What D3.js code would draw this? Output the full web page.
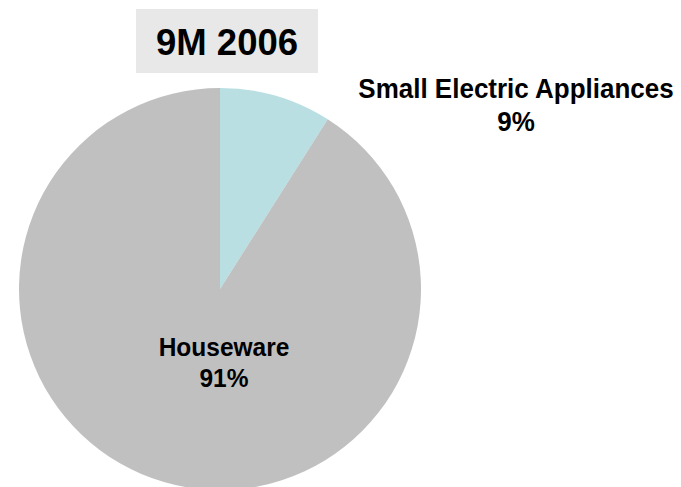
<!DOCTYPE html>
<html>
<head>
<meta charset="utf-8">
<script src="https://cdn.jsdelivr.net/npm/d3@7"></script>
<style>
  html, body { margin: 0; padding: 0; background: #ffffff; }
  svg { display: block; }
  text { font-family: "Liberation Sans", Arial, sans-serif; font-weight: bold; fill: #000; }
</style>
</head>
<body>
<svg id="chart" width="681" height="487"></svg>
<script>
// Sales split by segment, 9M 2006
const title = "9M 2006";
const categories = ["Small Electric Appliances", "Houseware"];
const shares = [9, 91];
const colors = ["#b9dfe3", "#c0c0c0"];

const svg = d3.select("#chart");
const cx = 220, cy = 289, r = 201;

const pie = d3.pie().sort(null).value(d => d.value);
const arcs = pie(categories.map((c, i) => ({ name: c, value: shares[i], color: colors[i] })));
const arc = d3.arc().innerRadius(0).outerRadius(r);

const g = svg.append("g").attr("transform", `translate(${cx},${cy})`);
g.selectAll("path")
  .data(arcs)
  .join("path")
  .attr("d", arc)
  .attr("fill", d => d.data.color);

// Title box
const tb = svg.append("g");
tb.append("rect").attr("x", 136).attr("y", 9).attr("width", 182).attr("height", 64).attr("fill", "#e8e8e8");
tb.append("text").attr("transform", "translate(227,55) scale(1,1.03)")
  .attr("text-anchor", "middle")
  .style("font-size", "36.5px").text(title);

// Slice labels: name on the first line, share on the second
const labelStyle = [
  { x: 516, y: 98, size: 26, gap: 31 },
  { x: 224, y: 356, size: 24.5, gap: 29 }
];
arcs.forEach((d, i) => {
  const s = labelStyle[i];
  const t = svg.append("text")
    .attr("transform", `translate(${s.x},${s.y}) scale(1,1.08)`)
    .attr("text-anchor", "middle")
    .style("font-size", s.size + "px");
  t.append("tspan").attr("x", 0).attr("y", 0).text(d.data.name);
  t.append("tspan").attr("x", 0).attr("dy", s.gap).text(d.data.value + "%");
});
</script>
</body>
</html>
